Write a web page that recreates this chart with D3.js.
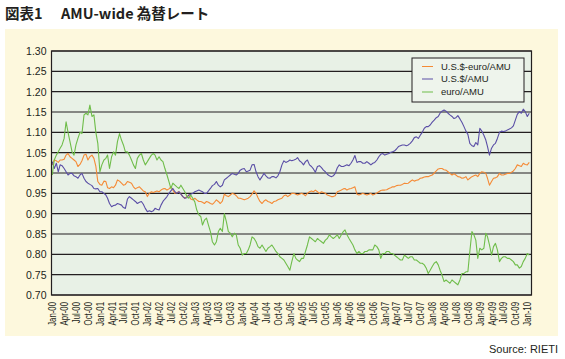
<!DOCTYPE html>
<html>
  <head>
    <meta charset="utf-8">
    <title>AMU-wide 為替レート</title>
    <script src="https://cdn.jsdelivr.net/npm/d3@7"></script>
    <style>
      body { margin: 0; background: #fff; }
      svg text { font-family: "Liberation Sans", Arial, sans-serif; fill: #231f20; }
      .title { font-family: "Noto Sans CJK JP", sans-serif; font-weight: bold; font-size: 14.5px; }
      .grid line { stroke: #231f20; stroke-width: 1.2; }
      .series { fill: none; stroke-width: 1.1; stroke-linejoin: round; }
    </style>
  </head>
  <body>
    <svg id="chart" width="565" height="359"></svg>
    <script>
      // half-monthly readings, 1st and 16th of each month, Jan 2000 - Jan 2010
      var usdEuroAmu = [
        1.020,1.032,1.030,1.026,1.032,1.032,1.034,1.044,1.048,1.040,1.036,1.032,
        1.028,1.016,1.021,1.030,1.044,1.046,1.032,1.040,1.044,1.036,1.016,0.979,
        0.972,0.970,0.980,0.979,0.964,0.962,0.966,0.964,0.970,0.983,0.980,0.975,
        0.970,0.972,0.979,0.977,0.975,0.966,0.961,0.964,0.966,0.961,0.956,0.954,
        0.942,0.950,0.954,0.952,0.954,0.956,0.954,0.958,0.961,0.962,0.958,0.961,
        0.966,0.958,0.950,0.952,0.954,0.948,0.942,0.938,0.942,0.946,0.936,0.934,
        0.938,0.934,0.930,0.930,0.928,0.925,0.930,0.928,0.925,0.923,0.928,0.934,
        0.930,0.925,0.931,0.948,0.944,0.942,0.946,0.950,0.948,0.944,0.938,0.938,
        0.936,0.934,0.936,0.938,0.942,0.948,0.956,0.950,0.939,0.930,0.925,0.931,
        0.934,0.930,0.928,0.925,0.930,0.931,0.934,0.936,0.938,0.944,0.946,0.942,
        0.946,0.950,0.950,0.948,0.946,0.948,0.950,0.948,0.944,0.950,0.954,0.956,
        0.954,0.958,0.954,0.950,0.954,0.952,0.950,0.946,0.944,0.942,0.942,0.944,
        0.954,0.956,0.958,0.961,0.962,0.958,0.961,0.962,0.964,0.966,0.948,0.946,
        0.948,0.950,0.948,0.946,0.948,0.950,0.946,0.948,0.951,0.954,0.957,0.958,
        0.958,0.959,0.962,0.964,0.966,0.966,0.969,0.970,0.970,0.972,0.975,0.974,
        0.975,0.979,0.983,0.980,0.982,0.983,0.987,0.988,0.990,0.991,0.991,0.993,
        0.995,1.000,1.005,1.010,1.011,1.011,1.008,1.007,1.003,0.999,0.995,0.998,
        0.995,0.991,0.990,0.987,0.988,0.991,0.983,0.987,0.991,0.993,0.995,0.991,
        0.999,1.003,1.002,0.999,0.987,0.970,0.979,0.987,0.988,0.991,0.999,0.995,
        0.995,0.997,0.999,0.999,1.002,1.005,1.011,1.020,1.018,1.016,1.024,1.021,
        1.020,1.026
      ];
      var usdAmu = [
        1.028,1.011,1.024,1.003,1.020,1.018,1.011,1.003,0.995,0.999,0.999,0.993,
        0.991,0.987,0.995,0.999,0.987,0.979,0.975,0.972,0.969,0.962,0.961,0.962,
        0.954,0.954,0.950,0.946,0.938,0.925,0.917,0.920,0.921,0.925,0.923,0.921,
        0.915,0.913,0.936,0.942,0.938,0.934,0.930,0.925,0.928,0.930,0.923,0.913,
        0.905,0.907,0.905,0.907,0.913,0.911,0.909,0.921,0.930,0.936,0.942,0.950,
        0.956,0.962,0.954,0.950,0.954,0.948,0.942,0.938,0.939,0.946,0.948,0.950,
        0.954,0.956,0.958,0.956,0.954,0.950,0.950,0.956,0.962,0.969,0.972,0.979,
        0.970,0.966,0.970,0.983,0.987,0.991,0.995,0.999,0.997,0.995,0.999,1.007,
        1.010,1.011,1.003,1.005,1.007,1.020,1.021,1.003,0.991,0.983,0.991,0.999,
        0.993,0.988,0.987,0.991,0.991,0.988,0.993,1.003,1.020,1.030,1.026,1.028,
        1.032,1.030,1.032,1.034,1.038,1.030,1.026,1.020,1.028,1.032,1.020,1.016,
        1.010,1.002,1.016,1.018,1.013,1.007,1.003,0.997,0.993,0.991,0.993,0.999,
        1.013,1.020,1.016,1.016,1.018,1.020,1.018,1.024,1.032,1.043,1.026,1.028,
        1.028,1.024,1.024,1.028,1.024,1.020,1.024,1.026,1.032,1.040,1.046,1.048,
        1.044,1.046,1.048,1.051,1.052,1.054,1.059,1.065,1.067,1.069,1.069,1.067,
        1.069,1.073,1.079,1.087,1.089,1.085,1.093,1.100,1.110,1.114,1.114,1.118,
        1.125,1.130,1.136,1.139,1.147,1.152,1.155,1.152,1.147,1.143,1.139,1.134,
        1.136,1.141,1.133,1.125,1.114,1.103,1.095,1.073,1.067,1.065,1.075,1.069,
        1.110,1.103,1.093,1.081,1.065,1.044,1.061,1.069,1.073,1.085,1.100,1.103,
        1.102,1.103,1.106,1.108,1.111,1.116,1.130,1.144,1.151,1.147,1.157,1.151,
        1.139,1.147
      ];
      var euroAmu = [
        0.995,1.032,1.044,1.052,1.061,1.069,1.085,1.126,1.100,1.077,1.052,1.044,
        1.069,1.085,1.100,1.097,1.143,1.147,1.143,1.167,1.139,1.143,1.100,1.073,
        1.003,1.020,1.032,1.036,1.044,1.011,1.040,1.052,1.044,1.077,1.097,1.081,
        1.069,1.052,1.052,1.044,1.032,1.020,1.011,1.036,1.044,1.048,1.032,1.020,
        1.028,1.036,1.044,1.048,1.044,1.032,1.040,1.032,1.028,1.011,0.995,0.979,
        0.962,0.975,0.970,0.966,0.962,0.970,0.962,0.954,0.942,0.938,0.946,0.938,
        0.929,0.909,0.897,0.893,0.872,0.884,0.889,0.872,0.856,0.831,0.823,0.831,
        0.856,0.864,0.856,0.900,0.880,0.856,0.852,0.843,0.852,0.848,0.823,0.815,
        0.798,0.802,0.802,0.811,0.823,0.843,0.839,0.831,0.819,0.815,0.823,0.815,
        0.807,0.815,0.819,0.823,0.815,0.807,0.802,0.794,0.790,0.786,0.778,0.770,
        0.761,0.782,0.802,0.790,0.786,0.782,0.790,0.790,0.807,0.823,0.843,0.839,
        0.835,0.831,0.839,0.835,0.831,0.827,0.835,0.839,0.848,0.843,0.839,0.843,
        0.848,0.839,0.848,0.856,0.860,0.848,0.839,0.831,0.823,0.811,0.802,0.807,
        0.802,0.802,0.807,0.807,0.811,0.811,0.811,0.823,0.819,0.811,0.790,0.802,
        0.802,0.807,0.807,0.802,0.802,0.798,0.794,0.790,0.786,0.786,0.798,0.794,
        0.790,0.794,0.794,0.786,0.786,0.782,0.778,0.778,0.774,0.766,0.753,0.761,
        0.770,0.778,0.782,0.774,0.761,0.749,0.733,0.737,0.733,0.729,0.737,0.733,
        0.729,0.725,0.737,0.753,0.753,0.757,0.757,0.807,0.856,0.848,0.835,0.790,
        0.815,0.811,0.815,0.852,0.843,0.823,0.798,0.819,0.827,0.811,0.782,0.790,
        0.794,0.794,0.790,0.790,0.786,0.782,0.774,0.774,0.766,0.770,0.782,0.790,
        0.802,0.798
      ];
      var seriesNames = ["U.S.$-euro/AMU", "U.S.$/AMU", "euro/AMU"];
      var seriesColours = ["#f58a35", "#5a4ea6", "#6fbd4a"];
      var yTicks = [0.70, 0.75, 0.80, 0.85, 0.90, 0.95, 1.00, 1.05, 1.10, 1.15, 1.20, 1.25, 1.30];
      var xTickLabels = [
        "Jan-00","Apr-00","Jul-00","Oct-00","Jan-01","Apr-01","Jul-01","Oct-01",
        "Jan-02","Apr-02","Jul-02","Oct-02","Jan-03","Apr-03","Jul-03","Oct-03",
        "Jan-04","Apr-04","Jul-04","Oct-04","Jan-05","Apr-05","Jul-05","Oct-05",
        "Jan-06","Apr-06","Jul-06","Oct-06","Jan-07","Apr-07","Jul-07","Oct-07",
        "Jan-08","Apr-08","Jul-08","Oct-08","Jan-09","Apr-09","Jul-09","Oct-09",
        "Jan-10"
      ];

      var svg = d3.select("#chart");
      var parseTick = d3.timeParse("%b-%y");
      var tickDates = xTickLabels.map(parseTick);
      var dates = usdEuroAmu.map(function(d, i) { return new Date(2000, Math.floor(i / 2), i % 2 ? 16 : 1); });

      var plot = { left: 51.5, right: 531.5, top: 51, bottom: 295 };
      var x = d3.scaleTime()
        .domain([tickDates[0], tickDates[tickDates.length - 1]])
        .range([52.3, 527.3]);
      var y = d3.scaleLinear()
        .domain([0.70, 1.30])
        .range([plot.bottom, plot.top]);

      // backgrounds
      svg.append("rect")
        .attr("x", 5).attr("y", 29).attr("width", 553).attr("height", 307)
        .attr("fill", "#fdf8dd");
      svg.append("rect")
        .attr("x", plot.left).attr("y", plot.top)
        .attr("width", plot.right - plot.left).attr("height", plot.bottom - plot.top)
        .attr("fill", "#e8f1e6");

      // title and source
      var title = svg.append("text").attr("class", "title").attr("y", 18.5);
      title.append("tspan").attr("x", 5).text("図表1");
      title.append("tspan").attr("x", 61).text("AMU-wide 為替レート");
      svg.append("text")
        .attr("x", 558).attr("y", 353)
        .attr("text-anchor", "end")
        .style("font-size", "11px")
        .text("Source: RIETI");

      // grid
      svg.append("g").attr("class", "grid")
        .selectAll("line")
          .data(yTicks)
        .enter().append("line")
          .attr("x1", plot.left).attr("x2", plot.right)
          .attr("y1", function(d) { return y(d); })
          .attr("y2", function(d) { return y(d); });

      // y axis
      var yAxis = d3.axisLeft(y)
        .tickValues(yTicks)
        .tickFormat(d3.format(".2f"))
        .tickSize(0)
        .tickPadding(5);
      svg.append("g")
        .attr("transform", "translate(" + plot.left + ",0)")
        .call(yAxis)
        .call(function(g) { g.select(".domain").remove(); })
        .selectAll("text")
          .style("font-family", "'Liberation Sans', Arial, sans-serif")
          .style("font-size", "10.5px")
          .attr("fill", "#231f20")
          .attr("dy", "0.34em");

      // x axis
      var xAxis = d3.axisBottom(x)
        .tickValues(tickDates)
        .tickFormat(function(d, i) { return xTickLabels[i]; })
        .tickSize(0);
      svg.append("g")
        .attr("transform", "translate(0," + plot.bottom + ")")
        .call(xAxis)
        .call(function(g) { g.select(".domain").remove(); })
        .selectAll("text")
          .style("font-family", "'Liberation Sans', Arial, sans-serif")
          .style("font-size", "10px")
          .attr("fill", "#231f20")
          .attr("text-anchor", "end")
          .attr("x", 0).attr("y", 0)
          .attr("dy", "0.35em")
          .attr("transform", "translate(0,7) rotate(-90) scale(0.78,1)");

      // lines
      var line = d3.line()
        .x(function(d, i) { return x(dates[i]); })
        .y(function(d) { return y(d); });
      svg.append("g")
        .selectAll("path")
          .data([usdEuroAmu, usdAmu, euroAmu])
        .enter().append("path")
          .attr("class", "series")
          .attr("stroke", function(d, i) { return seriesColours[i]; })
          .attr("d", line);

      // frame
      svg.append("rect")
        .attr("x", plot.left).attr("y", plot.top)
        .attr("width", plot.right - plot.left).attr("height", plot.bottom - plot.top)
        .attr("fill", "none").attr("stroke", "#231f20").attr("stroke-width", 1.2);

      // legend
      var legend = svg.append("g").attr("transform", "translate(412,58)");
      legend.append("rect")
        .attr("width", 112).attr("height", 44)
        .attr("fill", "#eef4ec").attr("stroke", "#231f20").attr("stroke-width", 1);
      var rows = legend.selectAll(".row")
          .data(seriesNames)
        .enter().append("g")
          .attr("transform", function(d, i) { return "translate(0," + [8.5, 21, 34][i] + ")"; });
      rows.append("line")
        .attr("x1", 10).attr("x2", 21)
        .attr("stroke", function(d, i) { return seriesColours[i]; })
        .attr("stroke-width", 1);
      rows.append("text")
        .attr("x", 29).attr("dy", "0.35em")
        .style("font-size", "9.5px")
        .text(function(d) { return d; });
    </script>
  </body>
</html>
